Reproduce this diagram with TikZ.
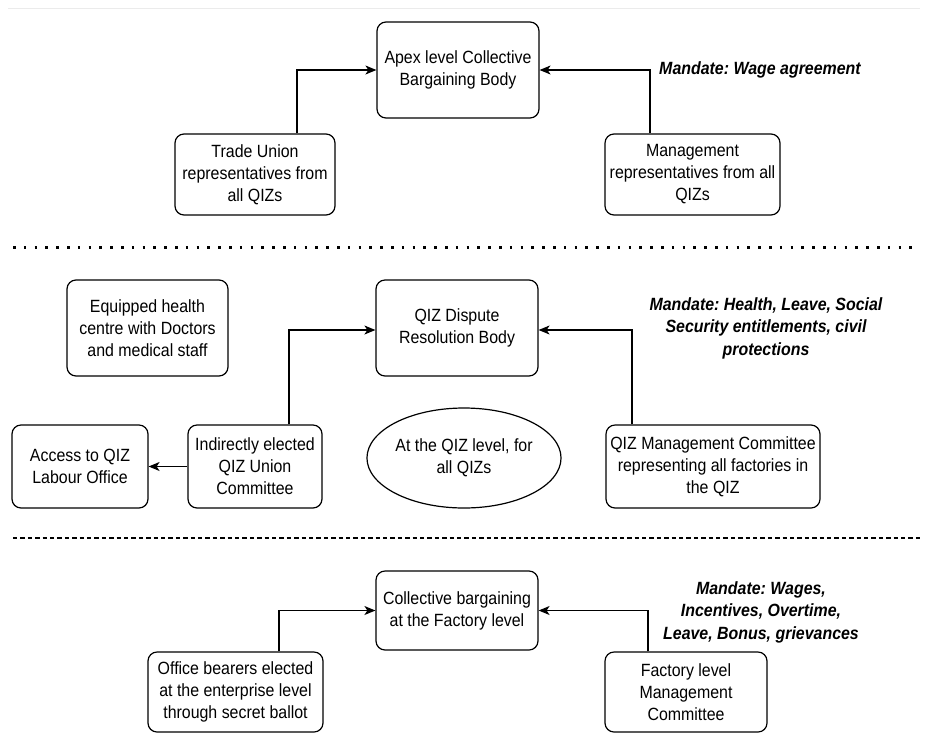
\documentclass[tikz,border=0pt]{standalone}
\usepackage{fontspec}
\setmainfont[FakeStretch=0.9]{Liberation Sans}
\usetikzlibrary{arrows.meta,shapes.geometric}
\frenchspacing

\begin{document}
\begin{tikzpicture}[x=1pt,y=-1pt,font=\fontsize{17.7}{22}\selectfont]

                \tikzset{box/.style = {draw,rounded corners=9pt,line width=1.2pt,align=center,inner sep=2pt}}
                \tikzset{edge/.style = {-{Stealth[length=11pt,width=9pt,inset=3pt]},line width=1.2pt}}
                \tikzset{mandate/.style = {align=center,font=\fontsize{17.7}{22.5}\selectfont\bfseries\itshape}}
                \useasboundingbox (0,0) rectangle (925,753);
                \draw[black!8,line width=1pt] (8,8) -- (920,8);

                % apex level
                \node[box,minimum width=162pt,minimum height=96pt] (apex) at (458,70) {Apex level Collective\\Bargaining Body};
                \node[box,minimum width=160pt,minimum height=81pt] (tu) at (255,174.5) {Trade Union\\representatives from\\all QIZs};
                \node[box,minimum width=175pt,minimum height=81pt] (mgmt) at (692.5,174.5) {Management\\representatives from all\\QIZs};
                \node[mandate] (m1) at (760,70) {Mandate: Wage agreement};

                \draw[edge] ([xshift=42pt]tu.north) |- (apex.west);
                \draw[edge] ([xshift=-42.5pt]mgmt.north) |- (apex.east);

                \draw[line width=3pt,dash pattern=on 2.5pt off 8.3pt] (13,247) -- (920,247);

                % QIZ level
                \node[box,minimum width=161pt,minimum height=96pt] (health) at (147.5,328) {Equipped health\\centre with Doctors\\and medical staff};
                \node[box,minimum width=162pt,minimum height=96pt] (dispute) at (457,328) {QIZ Dispute\\Resolution Body};
                \node[mandate] (m2) at (766,328) {Mandate: Health, Leave, Social\\Security entitlements, civil\\protections};
                \node[box,minimum width=136pt,minimum height=83pt] (labour) at (80,466.5) {Access to QIZ\\Labour Office};
                \node[box,minimum width=134pt,minimum height=83pt] (indirect) at (255,466.5) {Indirectly elected\\QIZ Union\\Committee};
                \node[draw,ellipse,line width=1.2pt,align=center,minimum width=162pt,minimum height=100pt,inner sep=0pt] (qizlevel) at (464,458) {At the QIZ level, for\\all QIZs};
                \node[box,minimum width=214pt,minimum height=83pt] (qizm) at (713,466.5) {QIZ Management Committee\\representing all factories in\\the QIZ};

                \draw[edge] ([xshift=34pt]indirect.north) |- ([yshift=-2pt]dispute.west);
                \draw[edge] ([xshift=-81pt]qizm.north) |- ([yshift=-2pt]dispute.east);
                \draw[edge] (indirect.west) -- (labour.east);

                \draw[line width=2pt,dash pattern=on 4.3pt off 3.1pt] (13,538) -- (920,538);

                % factory level
                \node[box,minimum width=162pt,minimum height=79pt] (factory) at (457,610.5) {Collective bargaining\\at the Factory level};
                \node[box,minimum width=175pt,minimum height=80pt] (office) at (235.5,692) {Office bearers elected\\at the enterprise level\\through secret ballot};
                \node[box,minimum width=162pt,minimum height=80pt] (fmgmt) at (686,692) {Factory level\\Management\\Committee};
                \node[mandate] (m3) at (761,612) {Mandate: Wages,\\Incentives, Overtime,\\Leave, Bonus, grievances};

                \draw[edge] ([xshift=43.5pt]office.north) |- (factory.west);
                \draw[edge] ([xshift=-38pt]fmgmt.north) |- (factory.east);

            \end{tikzpicture}
\end{document}
